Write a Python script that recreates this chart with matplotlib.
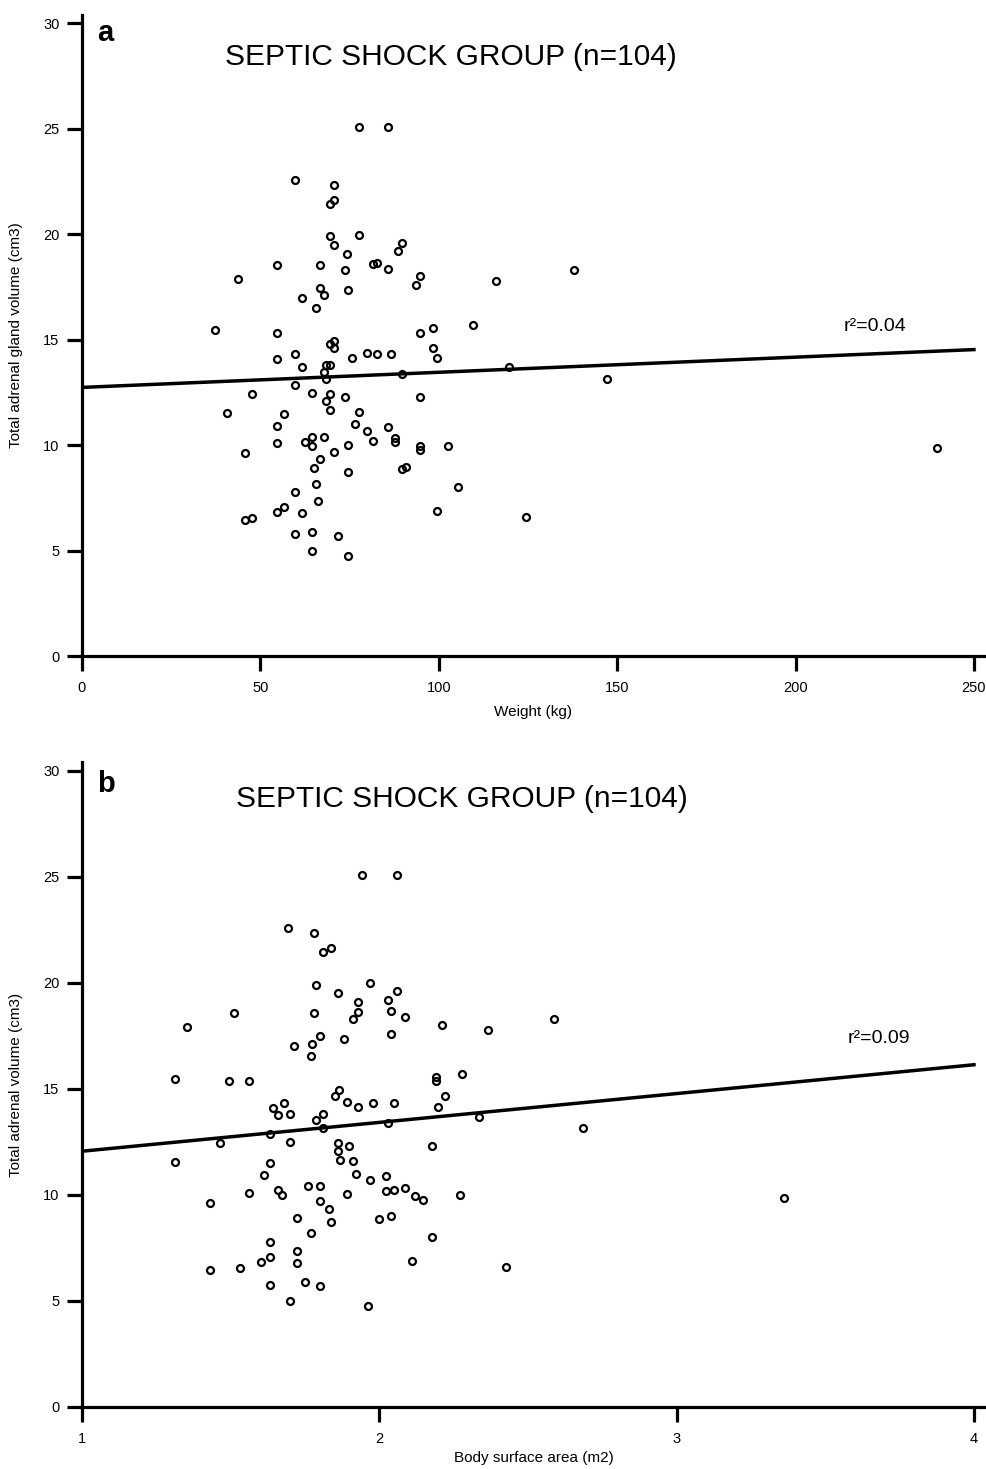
import matplotlib
matplotlib.use('Agg')
import matplotlib.pyplot as plt
import numpy as np

plt.rcParams['font.family'] = ['Liberation Sans', 'DejaVu Sans']

# ---------------- data ----------------
weight_kg = [77.6, 85.8, 59.7, 70.6, 70.6, 69.5, 69.5, 77.6, 70.6, 89.7, 88.6, 74.2, 54.7, 66.8, 82.6,
             81.6, 73.8, 85.8, 94.6, 93.5, 43.8, 66.8, 67.8, 74.6, 61.7, 65.7, 37.2, 54.7, 94.6, 98.5,
             109.7, 69.5, 70.6, 70.6, 98.5, 99.5, 59.7, 54.7, 75.6, 79.8, 82.6, 86.5, 61.7, 68.5, 69.6,
             67.8, 68.5, 89.7, 59.7, 47.7, 64.6, 69.6, 73.8, 94.6, 68.5, 69.6, 40.7, 56.5, 77.6, 76.6,
             54.7, 79.8, 85.8, 81.6, 87.6, 87.6, 54.7, 62.5, 64.6, 64.6, 67.8, 74.6, 94.6, 94.6, 102.7,
             45.6, 70.6, 66.8, 64.9, 74.6, 89.7, 90.7, 65.7, 105.5, 59.7, 66.1, 54.7, 56.5, 61.7, 99.5,
             45.6, 47.7, 59.7, 64.6, 71.7, 64.6, 74.6, 115.9, 137.9, 119.6, 147.2, 124.4, 239.7]
volume_a = [25.05, 25.05, 22.56, 22.32, 21.63, 21.44, 19.91, 19.96, 19.47, 19.59, 19.18, 19.06, 18.52, 18.52, 18.65,
            18.58, 18.28, 18.35, 18.00, 17.59, 17.87, 17.46, 17.10, 17.34, 16.99, 16.50, 15.44, 15.32, 15.32, 15.56,
            15.67, 14.80, 14.92, 14.61, 14.61, 14.14, 14.32, 14.07, 14.14, 14.36, 14.29, 14.32, 13.72, 13.79, 13.79,
            13.46, 13.11, 13.38, 12.83, 12.43, 12.46, 12.43, 12.29, 12.29, 12.07, 11.64, 11.51, 11.45, 11.56, 10.98,
            10.92, 10.68, 10.85, 10.21, 10.35, 10.14, 10.08, 10.16, 10.38, 9.95, 10.38, 10.02, 9.94, 9.74, 9.97,
            9.61, 9.67, 9.32, 8.91, 8.71, 8.84, 8.96, 8.17, 8.01, 7.76, 7.35, 6.81, 7.05, 6.77, 6.88,
            6.45, 6.52, 5.76, 5.88, 5.69, 4.97, 4.73, 17.77, 18.31, 13.68, 13.14, 6.60, 9.84]

bsa_m2 = [1.941, 2.058, 1.692, 1.779, 1.839, 1.809, 1.788, 1.970, 1.860, 2.058, 1.928, 2.029, 1.510, 1.779, 1.928,
          1.912, 2.038, 2.088, 2.211, 1.353, 1.801, 1.772, 1.882, 1.712, 2.038, 1.771, 1.312, 1.493, 1.560, 2.190,
          2.190, 2.278, 2.220, 1.865, 1.851, 1.891, 1.929, 1.979, 2.050, 2.198, 1.641, 1.678, 1.660, 1.700, 1.809,
          1.788, 1.809, 2.029, 2.336, 1.633, 1.463, 1.700, 1.860, 1.898, 2.178, 1.860, 1.868, 1.912, 1.312, 1.633,
          1.611, 1.920, 1.970, 2.021, 1.560, 1.660, 1.671, 1.759, 1.801, 1.891, 2.021, 2.050, 2.088, 2.119, 2.148,
          2.272, 1.429, 1.801, 1.831, 1.722, 1.839, 1.999, 2.038, 1.771, 2.178, 1.633, 1.722, 1.633, 1.603, 1.722,
          2.110, 1.429, 1.530, 1.633, 1.750, 1.801, 1.700, 1.962, 2.367, 2.586, 2.686, 3.362, 2.426]
volume_b = [25.08, 25.08, 22.59, 22.36, 21.64, 21.46, 19.91, 19.97, 19.50, 19.62, 19.08, 19.20, 18.56, 18.56, 18.60,
            18.30, 18.66, 18.37, 18.00, 17.90, 17.47, 17.12, 17.36, 17.00, 17.60, 16.53, 15.46, 15.35, 15.35, 15.57,
            15.35, 15.69, 14.66, 14.94, 14.66, 14.39, 14.15, 14.34, 14.34, 14.15, 14.10, 14.34, 13.75, 13.81, 13.81,
            13.51, 13.13, 13.37, 13.68, 12.85, 12.42, 12.49, 12.42, 12.30, 12.30, 12.08, 11.64, 11.58, 11.53, 11.48,
            10.93, 10.99, 10.69, 10.87, 10.10, 10.21, 9.97, 10.40, 10.40, 10.03, 10.16, 10.22, 10.33, 9.92, 9.75,
            9.98, 9.62, 9.69, 9.33, 8.92, 8.73, 8.85, 8.98, 8.19, 8.02, 7.77, 7.36, 7.06, 6.83, 6.76,
            6.89, 6.46, 6.53, 5.75, 5.88, 5.71, 5.00, 4.75, 17.77, 18.30, 13.13, 9.86, 6.60]

fit_a = [12.73, 0.00717]      # intercept, slope (weight)
fit_b = [10.69, 1.36]         # intercept, slope (BSA)
fit_a_range = [0, 250]
fit_b_range = [1, 4]
r2_labels = ['r²=0.04', 'r²=0.09']
title = 'SEPTIC SHOCK GROUP (n=104)'

# ---------------- figure ----------------
W, H = 987, 1469
fig = plt.figure(figsize=(W / 100, H / 100), dpi=100)

def fy(py):
    return 1 - py / H

ax1 = fig.add_axes([82 / W, fy(656), (985 - 82) / W, (656 - 14.6) / H])
ax2 = fig.add_axes([82 / W, fy(1406.7), (985 - 82) / W, (1406.7 - 762.2) / H])

for ax in (ax1, ax2):
    for s in ('top', 'right'):
        ax.spines[s].set_visible(False)
    for s in ('left', 'bottom'):
        ax.spines[s].set_linewidth(2.3)
    ax.tick_params(direction='out', length=10.8, width=2.3, labelsize=10.5, color='black')
    ax.tick_params(axis='y', pad=5.5)
    ax.tick_params(axis='x', pad=7.5)
    ax.set_ylim(0, 30.4)
    ax.set_yticks(np.arange(0, 31, 5))

# panel a
ax1.set_xlim(0, 253.1)
ax1.set_xticks(np.arange(0, 251, 50))
xa = np.array(fit_a_range, dtype=float)
ax1.plot(xa, fit_a[0] + fit_a[1] * xa, color='black', lw=2.5, zorder=2)
ax1.plot(weight_kg, volume_a, 'o', ms=5, mfc='none', mec='black', mew=1.6, ls='none', zorder=3)
ax1.text(213.6, 15.42, r2_labels[0], fontsize=14, ha='left', va='baseline')
ax1.set_xlabel('Weight (kg)', fontsize=11)
ax1.xaxis.set_label_coords(0.5, -0.077)
ax1.set_ylabel('Total adrenal gland volume (cm3)', fontsize=11)
ax1.yaxis.set_label_coords(-0.0657, 0.5)

# panel b
ax2.set_xlim(1, 4.037)
ax2.set_xticks([1, 2, 3, 4])
xb = np.array(fit_b_range, dtype=float)
ax2.plot(xb, fit_b[0] + fit_b[1] * xb, color='black', lw=2.5, zorder=2)
ax2.plot(bsa_m2, volume_b, 'o', ms=5, mfc='none', mec='black', mew=1.6, ls='none', zorder=3)
ax2.text(3.575, 17.17, r2_labels[1], fontsize=14, ha='left', va='baseline')
ax2.set_xlabel('Body surface area (m2)', fontsize=11)
ax2.xaxis.set_label_coords(0.5, -0.068)
ax2.set_ylabel('Total adrenal volume (cm3)', fontsize=11)
ax2.yaxis.set_label_coords(-0.0657, 0.5)

# titles and panel letters
fig.text(451 / W, fy(65), title, ha='center', va='baseline', fontsize=21.5)
fig.text(462 / W, fy(807), title, ha='center', va='baseline', fontsize=21.5)
fig.text(97 / W, fy(41), 'a', ha='left', va='baseline', fontsize=21, fontweight='bold')
fig.text(97 / W, fy(792), 'b', ha='left', va='baseline', fontsize=21, fontweight='bold')

fig.savefig('out.png', dpi=100)
